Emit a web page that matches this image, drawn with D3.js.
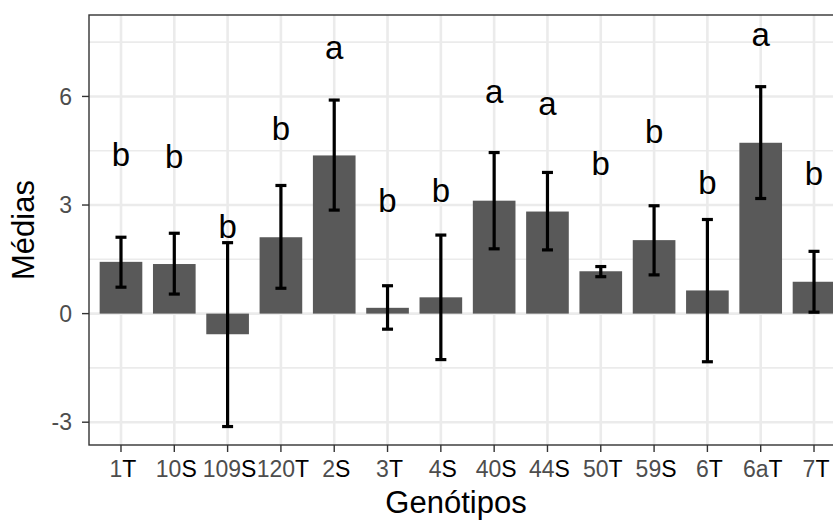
<!DOCTYPE html>
<html>
<head>
<meta charset="utf-8">
<script src="https://cdn.jsdelivr.net/npm/d3@7"></script>
<style>
  html, body { margin: 0; padding: 0; background: #ffffff; }
  svg { display: block; font-family: "Liberation Sans", Arial, sans-serif; }
</style>
</head>
<body>
<div id="chart"></div>
<script>
// Genotype means with error bars and letter groups
const genotypes = ["1T", "10S", "109S", "120T", "2S", "3T", "4S", "40S", "44S", "50T", "59S", "6T", "6aT", "7T"];
const means     = [1.43, 1.37, -0.57, 2.11, 4.37, 0.16, 0.45, 3.12, 2.82, 1.17, 2.03, 0.64, 4.72, 0.88];
const errUpper  = [2.11, 2.22, 1.96, 3.54, 5.90, 0.77, 2.17, 4.45, 3.90, 1.30, 2.98, 2.60, 6.27, 1.72];
const errLower  = [0.73, 0.54, -3.12, 0.70, 2.86, -0.43, -1.27, 1.79, 1.76, 1.02, 1.07, -1.33, 3.18, 0.04];
const groups    = ["b", "b", "b", "b", "a", "b", "b", "a", "a", "b", "b", "b", "a", "b"];
const groupY    = [4.09, 4.01, 2.08, 4.80, 7.04, 2.82, 3.09, 5.81, 5.49, 3.83, 4.71, 3.31, 7.38, 3.54];

const yTicks = [-3, 0, 3, 6];
const yMinor = [-1.5, 1.5, 4.5, 7.5];

const W = 833, H = 520;
// panel box (right side runs past the window edge, as in the reference)
const panel = { left: 89, top: 15, right: 846, bottom: 445 };

const svg = d3.select("#chart").append("svg")
  .attr("width", W)
  .attr("height", H);

const x = d3.scalePoint()
  .domain(genotypes)
  .range([panel.left, panel.right])
  .padding(0.6);

const y = d3.scaleLinear()
  .domain([-3.63, 8.25])
  .range([panel.bottom, panel.top]);

const barW = x.step() * 0.8;

const data = genotypes.map((g, i) => ({
  g, mean: means[i], hi: errUpper[i], lo: errLower[i], grp: groups[i], gy: groupY[i]
}));

// grid lines
const grid = svg.append("g");
grid.selectAll("line.minor")
  .data(yMinor)
  .join("line")
  .attr("x1", panel.left).attr("x2", panel.right)
  .attr("y1", d => y(d)).attr("y2", d => y(d))
  .attr("stroke", "#ebebeb").attr("stroke-width", 1.6);

grid.selectAll("line.majorY")
  .data(yTicks)
  .join("line")
  .attr("x1", panel.left).attr("x2", panel.right)
  .attr("y1", d => y(d)).attr("y2", d => y(d))
  .attr("stroke", "#ebebeb").attr("stroke-width", 2.6);

grid.selectAll("line.majorX")
  .data(genotypes)
  .join("line")
  .attr("x1", d => x(d)).attr("x2", d => x(d))
  .attr("y1", panel.top).attr("y2", panel.bottom)
  .attr("stroke", "#ebebeb").attr("stroke-width", 2.6);

// bars
svg.append("g").selectAll("rect")
  .data(data)
  .join("rect")
  .attr("x", d => x(d.g) - barW / 2)
  .attr("width", barW)
  .attr("y", d => y(Math.max(0, d.mean)))
  .attr("height", d => Math.abs(y(d.mean) - y(0)))
  .attr("fill", "#595959");

// error bars
const eb = svg.append("g")
  .attr("stroke", "#000")
  .attr("stroke-width", 3.2);
eb.selectAll("line.stem")
  .data(data)
  .join("line")
  .attr("x1", d => x(d.g)).attr("x2", d => x(d.g))
  .attr("y1", d => y(d.hi)).attr("y2", d => y(d.lo));
eb.selectAll("line.top")
  .data(data)
  .join("line")
  .attr("x1", d => x(d.g) - 5.5).attr("x2", d => x(d.g) + 5.5)
  .attr("y1", d => y(d.hi)).attr("y2", d => y(d.hi));
eb.selectAll("line.bot")
  .data(data)
  .join("line")
  .attr("x1", d => x(d.g) - 5.5).attr("x2", d => x(d.g) + 5.5)
  .attr("y1", d => y(d.lo)).attr("y2", d => y(d.lo));

// group letters
svg.append("g").selectAll("text")
  .data(data)
  .join("text")
  .attr("x", d => x(d.g))
  .attr("y", d => y(d.gy))
  .attr("text-anchor", "middle")
  .style("font-size", "33px")
  .attr("fill", "#000")
  .text(d => d.grp);

// panel border
svg.append("rect")
  .attr("x", panel.left).attr("y", panel.top)
  .attr("width", panel.right - panel.left)
  .attr("height", panel.bottom - panel.top)
  .attr("fill", "none")
  .attr("stroke", "#333333")
  .attr("stroke-width", 1.4);

// y axis ticks + labels
const yAx = svg.append("g");
yAx.selectAll("line")
  .data(yTicks)
  .join("line")
  .attr("x1", panel.left - 7).attr("x2", panel.left)
  .attr("y1", d => y(d)).attr("y2", d => y(d))
  .attr("stroke", "#333333").attr("stroke-width", 1.4);
yAx.selectAll("text")
  .data(yTicks)
  .join("text")
  .attr("x", panel.left - 17)
  .attr("y", d => y(d))
  .attr("dy", "0.36em")
  .attr("text-anchor", "end")
  .style("font-size", "23px")
  .attr("fill", "#4d4d4d")
  .text(d => d);

// x axis ticks + labels (last character drawn darker, as in the reference)
const xAx = svg.append("g");
xAx.selectAll("line")
  .data(genotypes)
  .join("line")
  .attr("x1", d => x(d)).attr("x2", d => x(d))
  .attr("y1", panel.bottom).attr("y2", panel.bottom + 7)
  .attr("stroke", "#333333").attr("stroke-width", 1.4);
const xLab = xAx.selectAll("text")
  .data(genotypes)
  .join("text")
  .attr("x", d => x(d) + 2)
  .attr("y", panel.bottom + 32)
  .attr("text-anchor", "middle")
  .style("font-size", "23px");
xLab.append("tspan")
  .attr("fill", "#4d4d4d")
  .text(d => d.slice(0, -1));
xLab.append("tspan")
  .attr("fill", "#000")
  .text(d => d.slice(-1));

// axis titles
svg.append("text")
  .attr("x", 456)
  .attr("y", 513)
  .attr("text-anchor", "middle")
  .style("font-size", "31px")
  .attr("fill", "#000")
  .text("Genótipos");

svg.append("text")
  .attr("transform", `translate(34, ${(panel.top + panel.bottom) / 2}) rotate(-90)`)
  .attr("text-anchor", "middle")
  .style("font-size", "31px")
  .attr("fill", "#000")
  .text("Médias");
</script>
</body>
</html>
